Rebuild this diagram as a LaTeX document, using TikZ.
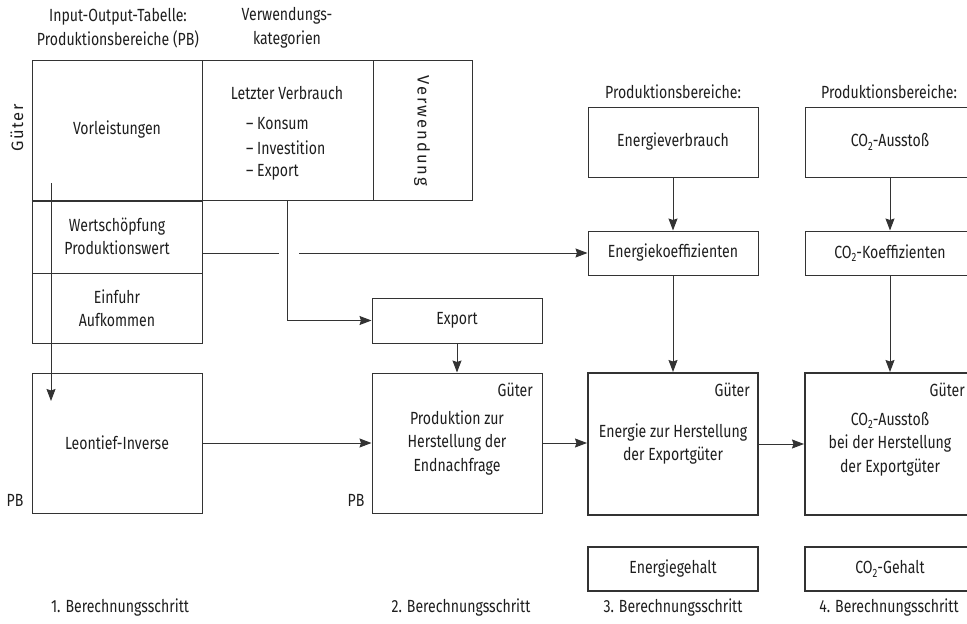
\documentclass[tikz,border=0pt]{standalone}
\usepackage{fontspec}
\setmainfont{Fira Sans}[FakeStretch=0.8]
\newfontfamily\spacedfont{Fira Sans}
\usetikzlibrary{arrows.meta}
\definecolor{lc}{HTML}{333333}
\definecolor{tc}{HTML}{1E1E1E}
\newcommand{\txt}{\fontsize{17.6}{23.5}\selectfont}
\newcommand{\cotwo}{CO\raisebox{-0.35ex}{\fontsize{12}{12}\selectfont 2}}
\tikzset{
  box/.style={draw=lc, line width=1pt, minimum width=170pt, inner sep=0pt, align=center, font=\txt, text=tc},
  thickbox/.style={box, line width=2pt},
  lbl/.style={inner sep=0pt, align=center, font=\txt, text=tc},
  arr/.style={draw=lc, line width=1pt, -{Stealth[length=12pt,width=9pt,inset=1.5pt]}},
  ln/.style={draw=lc, line width=1pt},
}
\begin{document}
\begin{tikzpicture}[x=1pt,y=-1pt]
\useasboundingbox (0,0) rectangle (967,624);
\clip (0,0) rectangle (967,624);
% headings
\node[lbl] (hio) at (118,28) {Input-Output-Tabelle:\\Produktionsbereiche (PB)};
\node[lbl] (hvk) at (287,28) {Verwendungs-\\kategorien};
\node[lbl] (hpb1) at (673,92) {Produktionsbereiche:};
\node[lbl] (hpb2) at (889,92) {Produktionsbereiche:};
\node[lbl, rotate=90, font=\spacedfont\fontsize{16.5}{16.5}\selectfont\addfontfeature{LetterSpace=9}] (gueterl) at (17,128) {Güter};
% input-output table
\node[box, minimum width=170pt, minimum height=140pt] (vorl) at (117,130) {Vorleistungen};
\node[box, minimum width=171pt, minimum height=140pt] (letzt) at (287.5,130) {};
\node[box, minimum width=99pt, minimum height=140pt] (verw) at (422.5,130) {};
\node[lbl, rotate=-90, font=\spacedfont\fontsize{16.5}{16.5}\selectfont\addfontfeature{LetterSpace=12}] (verwt) at (422,131) {Verwendung};
\node[lbl] (lv) at (287,93) {Letzter Verbrauch};
\node[lbl, anchor=west] (l1) at (246,124) {– Konsum};
\node[lbl, anchor=west] (l2) at (246,148) {– Investition};
\node[lbl, anchor=west] (l3) at (246,172) {– Export};
\node[box, minimum height=73pt] (wert) at (117,236.5) {Wertschöpfung\\Produktionswert};
\node[box, minimum height=70pt] (einf) at (117,308) {Einfuhr\\Aufkommen};
\draw[draw=lc, line width=2pt] (vorl.south west) -- (vorl.south east);
% step boxes
\node[box, minimum height=45pt] (export) at (457,320.5) {Export};
\node[box, minimum height=140pt] (leon) at (117,443) {Leontief-Inverse};
\node[box, minimum height=140pt] (prod) at (457,443) {Produktion zur\\Herstellung der\\Endnachfrage};
\node[thickbox, minimum height=142pt] (energie) at (673,444) {Energie zur Herstellung\\der Exportgüter};
\node[thickbox, minimum height=142pt] (co2) at (890,444) {\cotwo-Ausstoß\\bei der Herstellung\\der Exportgüter};
\node[thickbox, minimum height=44pt] (egehalt) at (673,569) {Energiegehalt};
\node[thickbox, minimum height=44pt] (cgehalt) at (890,569) {\cotwo-Gehalt};
\node[box, minimum height=70pt] (ever) at (673,142) {Energieverbrauch};
\node[box, minimum height=70pt] (causst) at (890,142) {\cotwo-Ausstoß};
\node[box, minimum height=44pt] (ekoeff) at (673,253) {Energiekoeffizienten};
\node[box, minimum height=44pt] (ckoeff) at (890,253) {\cotwo-Koeffizienten};
% small labels
\node[lbl] (pb1) at (15,500) {PB};
\node[lbl] (pb2) at (356,500) {PB};
\node[lbl, anchor=east] (g1) at (533,390) {Güter};
\node[lbl, anchor=east] (g2) at (750,390) {Güter};
\node[lbl, anchor=east] (g3) at (965,390) {Güter};
\node[lbl] (s1) at (120,608) {1. Berechnungsschritt};
\node[lbl] (s2) at (461,608) {2. Berechnungsschritt};
\node[lbl] (s3) at (673,608) {3. Berechnungsschritt};
\node[lbl] (s4) at (889,608) {4. Berechnungsschritt};
% connectors
\coordinate (vstart) at (51,183);
\coordinate (vend) at (51,401);
\draw[arr] (vstart) -- (vend);
\coordinate (gapa) at (279,253);
\coordinate (gapb) at (299,253);
\draw[ln] (wert.east |- gapa) -- (gapa);
\draw[arr] (gapb) -- (ekoeff.west);
\draw[arr] (letzt.south) |- (export.west);
\draw[arr] (export.south) -- (prod.north);
\draw[arr] (leon.east) -- (prod.west);
\draw[arr] (prod.east) -- (prod.east -| energie.west);
\draw[arr] (energie.east) -- (energie.east -| co2.west);
\draw[arr] (ever.south) -- (ekoeff.north);
\draw[arr] (ekoeff.south) -- (energie.north);
\draw[arr] (causst.south) -- (ckoeff.north);
\draw[arr] (ckoeff.south) -- (co2.north);
\end{tikzpicture}
\end{document}
